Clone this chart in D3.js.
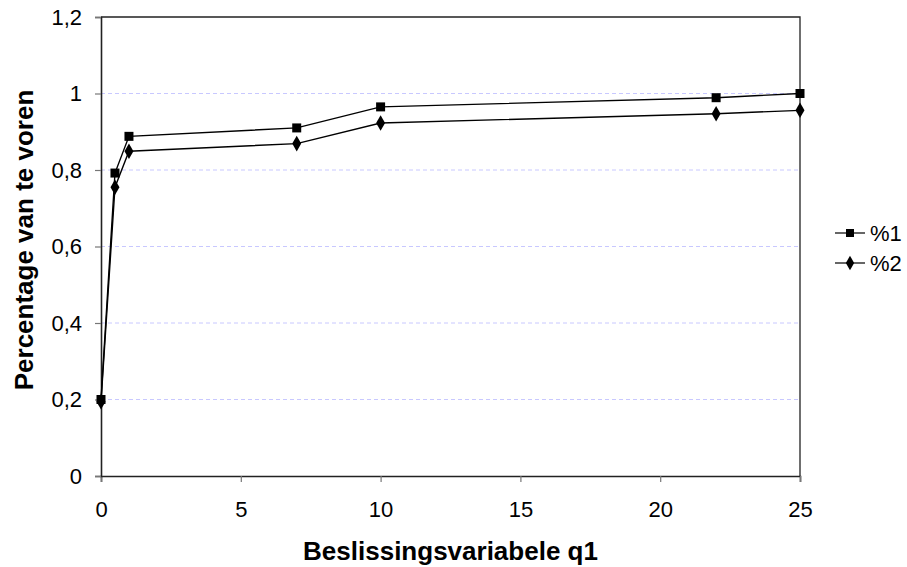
<!DOCTYPE html>
<html>
<head>
<meta charset="utf-8">
<script src="https://cdn.jsdelivr.net/npm/d3@7"></script>
<style>
    body { margin: 0; background: #fff; }
    text { font-family: "Liberation Sans", Arial, sans-serif; }
</style>
</head>
<body>
<div id="chart"></div>
<script>
const qValues = [0, 0.5, 1, 7, 10, 22, 25];
const pct1 = [0.2, 0.792, 0.888, 0.91, 0.965, 0.989, 1.0];
const pct2 = [0.194, 0.755, 0.849, 0.869, 0.923, 0.947, 0.956];
const seriesNames = ["%1", "%2"];
const xTicks = [0, 5, 10, 15, 20, 25];
const yTicks = [0, 0.2, 0.4, 0.6, 0.8, 1, 1.2];

const width = 907, height = 567;
const margin = { left: 101, right: 107, top: 17, bottom: 91 };

const svg = d3.select("#chart").append("svg")
    .attr("width", width)
    .attr("height", height);

const x = d3.scaleLinear().domain([0, 25]).range([margin.left, width - margin.right]);
const y = d3.scaleLinear().domain([0, 1.2]).range([height - margin.bottom, margin.top]);

const fmt = d => String(+d.toFixed(1)).replace(".", ",");

// gridlines
svg.append("g")
    .selectAll("line")
    .data(yTicks.filter(d => d > 0 && d < 1.2))
    .enter().append("line")
    .attr("x1", x(0))
    .attr("x2", x(25))
    .attr("y1", d => y(d))
    .attr("y2", d => y(d))
    .attr("stroke", "#c8c8ff")
    .attr("stroke-width", 1)
    .attr("stroke-dasharray", "4,3");

// plot border (top + right)
svg.append("path")
    .attr("d", `M${x(0)},${y(1.2)}H${x(25)}V${y(0)}`)
    .attr("fill", "none")
    .attr("stroke", "#222")
    .attr("stroke-width", 1.3);

// axes
const xAxis = svg.append("g")
    .attr("transform", `translate(0,${y(0)})`)
    .call(d3.axisBottom(x).tickValues(xTicks).tickSize(6).tickFormat(d => d));
const yAxis = svg.append("g")
    .attr("transform", `translate(${x(0)},0)`)
    .call(d3.axisLeft(y).tickValues(yTicks).tickSize(6).tickPadding(13).tickFormat(fmt));

[xAxis, yAxis].forEach(a => {
    a.select(".domain").attr("stroke", "#222").attr("stroke-width", 1.6);
    a.selectAll(".tick line").attr("stroke", "#777").attr("stroke-width", 1.2);
    a.selectAll(".tick text")
        .attr("fill", "#000")
        .style("font-size", "22px")
        .style("font-family", "'Liberation Sans', Arial, sans-serif");
});
xAxis.selectAll(".tick text").attr("dy", "0.72em").attr("y", 25);

// axis titles
svg.append("text")
    .attr("x", (x(0) + x(25)) / 2)
    .attr("y", 560)
    .attr("text-anchor", "middle")
    .style("font-size", "26px")
    .style("font-weight", "bold")
    .text("Beslissingsvariabele q1");

svg.append("text")
    .attr("transform", `translate(33,240) rotate(-90)`)
    .attr("text-anchor", "middle")
    .style("font-size", "26px")
    .style("font-weight", "bold")
    .text("Percentage van te voren");

// lines + markers
const seriesData = [pct1, pct2].map(vals => qValues.map((q, i) => ({ q, v: vals[i] })));
const line = d3.line().x(d => x(d.q)).y(d => y(d.v));
const square = d3.symbol().type(d3.symbolSquare).size(81);
const diamond = d3.symbol().type(d3.symbolDiamond).size(70);
const symbols = [square, diamond];

seriesData.forEach((data, s) => {
    svg.append("path")
        .datum(data)
        .attr("d", line)
        .attr("fill", "none")
        .attr("stroke", "#000")
        .attr("stroke-width", 1.4);

    svg.append("g")
        .selectAll("path")
        .data(data)
        .enter().append("path")
        .attr("transform", d => `translate(${x(d.q)},${y(d.v)})`)
        .attr("d", symbols[s])
        .attr("fill", "#000");
});

// legend
const legend = svg.append("g").attr("transform", "translate(835,233)");
seriesNames.forEach((name, i) => {
    const row = legend.append("g").attr("transform", `translate(0,${i * 30})`);
    row.append("line")
        .attr("x1", 0).attr("x2", 30)
        .attr("stroke", "#000").attr("stroke-width", 1.2);
    row.append("path")
        .attr("transform", "translate(15,0)")
        .attr("d", i === 0 ? d3.symbol().type(d3.symbolSquare).size(64)() : d3.symbol().type(d3.symbolDiamond).size(60)())
        .attr("fill", "#000");
    row.append("text")
        .attr("x", 35)
        .attr("y", 8)
        .style("font-size", "22px")
        .text(name);
});
</script>
</body>
</html>
